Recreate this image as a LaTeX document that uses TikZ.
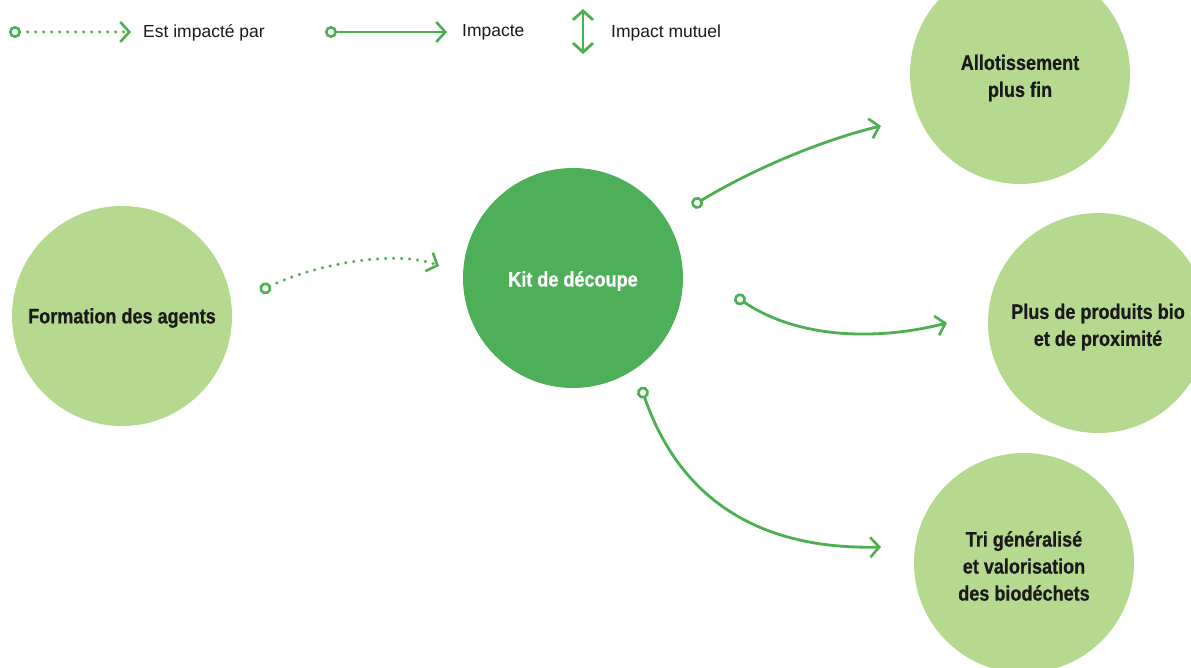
\documentclass[tikz,border=0pt]{standalone}
\usepackage{fontspec}
\setmainfont{Liberation Sans}
\newfontfamily\bcond{Liberation Sans Bold}[FakeStretch=0.86,FakeBold=0.6]
\usetikzlibrary{arrows.meta}
\definecolor{lightg}{HTML}{B5D98F}
\definecolor{darkg}{HTML}{4DAF57}
\definecolor{lineg}{HTML}{4CAF50}
\definecolor{txt}{HTML}{1A1A1A}
\tikzset{
  bubble/.style={circle,inner sep=0pt,minimum size=220pt,fill=lightg},
  kitbubble/.style={bubble,fill=darkg},
  btext/.style={text=txt,align=center,inner sep=0pt,font=\bcond\fontsize{21}{27}\selectfont},
  link/.style={lineg,line width=2.8pt,
    {Circle[open,length=12pt,width=12pt,line width=2.6pt,fill=white]}-{Straight Barb[length=9pt,width=20pt,line width=2.6pt]}},
  dotlink/.style={link,line cap=round,dash pattern=on 0pt off 8pt,line width=3.4pt},
  legtext/.style={anchor=west,text=txt,font=\fontsize{17.5}{20}\selectfont,inner sep=0pt}
}
\begin{document}
\begin{tikzpicture}[x=1pt,y=-1pt]
\useasboundingbox (0,0) rectangle (1191,668);
% bubbles
\node[bubble,label={[btext,yshift=-2pt]center:Formation des agents}] (form) at (122,316) {};
\node[kitbubble,label={[btext,text=white,yshift=-3pt]center:Kit de découpe}] (kit) at (573,278) {};
\node[bubble,label={[btext,yshift=-4pt]center:Allotissement\\plus fin}] (allot) at (1020,74) {};
\node[bubble,label={[btext,yshift=-4pt]center:Plus de produits bio\\et de proximité}] (bio) at (1098,323) {};
\node[bubble,label={[btext,yshift=-3pt]center:Tri généralisé\\et valorisation\\des biodéchets}] (tri) at (1024,563) {};
% connector end points
\coordinate (s1) at (260,291); \coordinate (e1) at (439,266);
\coordinate (s2) at (692,206); \coordinate (e2) at (881,126);
\coordinate (s3) at (735,296); \coordinate (e3) at (947,323);
\coordinate (s4) at (641,387); \coordinate (e4) at (881,547);
\draw[dotlink] (s1) .. controls (320,262) and (400,250) .. (e1);
\draw[link] (s2) .. controls (760,165) and (830,138) .. (e2);
\draw[link] (s3) .. controls (800,340) and (880,340) .. (e3);
\draw[link] (s4) .. controls (680,500) and (760,550) .. (e4);
% legend
\coordinate (l1a) at (9,32); \coordinate (l1b) at (131,32);
\draw[dotlink] (l1a) -- (l1b);
\node[legtext] (l1t) at (143,33) {Est impacté par};
\coordinate (l2a) at (325,32); \coordinate (l2b) at (447,32);
\draw[link] (l2a) -- (l2b);
\node[legtext] (l2t) at (462,32) {Impacte};
\coordinate (l3a) at (583,9); \coordinate (l3b) at (583,54);
\draw[lineg,line width=2.8pt,{Straight Barb[length=9pt,width=20pt]}-{Straight Barb[length=9pt,width=20pt]}] (l3a) -- (l3b);
\node[legtext] (l3t) at (611,33) {Impact mutuel};
\end{tikzpicture}
\end{document}
